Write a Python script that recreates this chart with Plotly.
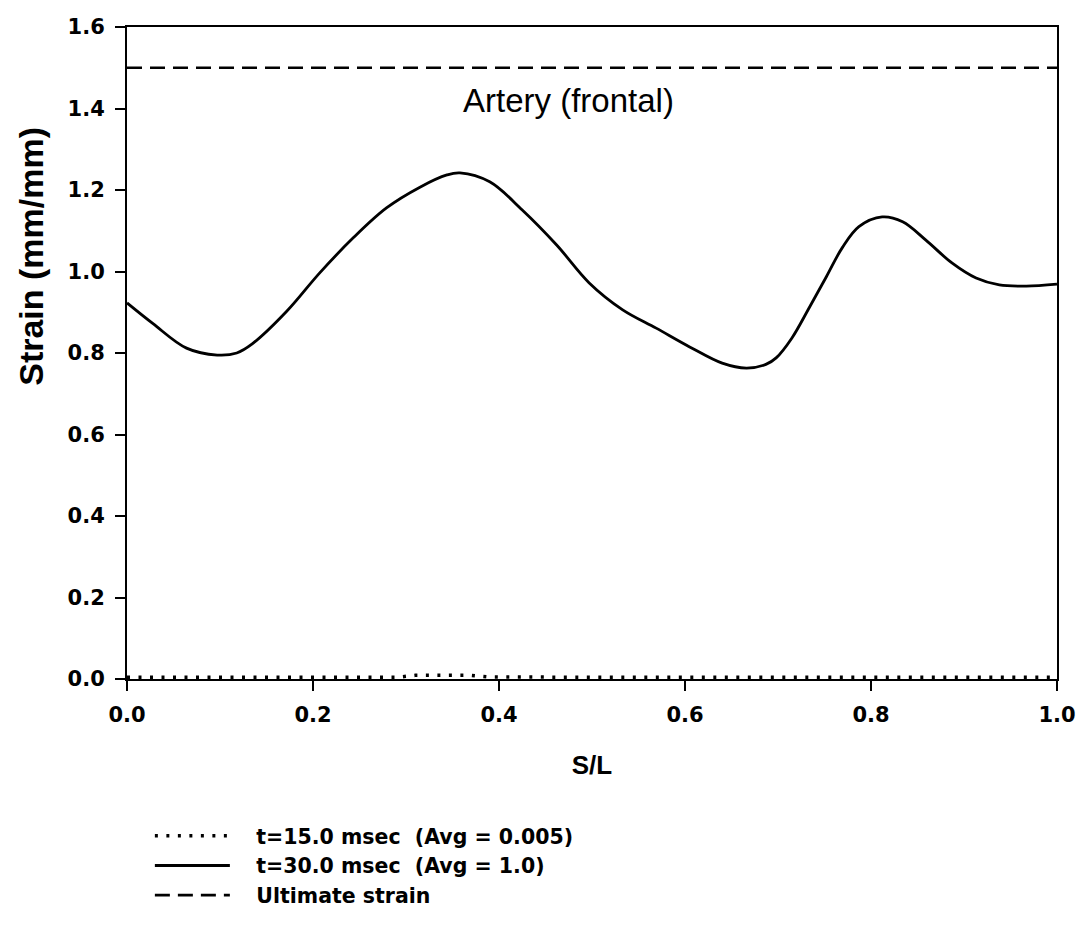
import plotly.graph_objects as go

# S/L positions and strain for the t=30.0 msec profile
s_30 = [0.0, 0.028, 0.064, 0.097, 0.118, 0.135, 0.172, 0.207, 0.243, 0.279, 0.315,
        0.344, 0.358, 0.390, 0.425, 0.462, 0.497, 0.533, 0.569, 0.605, 0.640, 0.666,
        0.687, 0.698, 0.715, 0.734, 0.752, 0.769, 0.787, 0.812, 0.834, 0.859, 0.887,
        0.913, 0.938, 0.967, 1.0]
strain_30 = [0.923, 0.872, 0.812, 0.795, 0.800, 0.823, 0.903, 0.996, 1.082, 1.156, 1.207,
             1.237, 1.242, 1.220, 1.151, 1.065, 0.972, 0.906, 0.861, 0.815, 0.775, 0.763,
             0.772, 0.788, 0.837, 0.913, 0.987, 1.058, 1.110, 1.134, 1.122, 1.077, 1.021,
             0.984, 0.967, 0.964, 0.969]

# t=15.0 msec profile (nearly zero everywhere)
s_15 = [0.0, 0.05, 0.10, 0.15, 0.20, 0.25, 0.29, 0.31, 0.34, 0.37, 0.39, 0.45,
        0.50, 0.55, 0.60, 0.65, 0.70, 0.75, 0.80, 0.85, 0.90, 0.95, 1.0]
strain_15 = [0.004, 0.004, 0.004, 0.004, 0.004, 0.004, 0.004, 0.009, 0.010, 0.009, 0.005, 0.004,
             0.004, 0.004, 0.004, 0.004, 0.004, 0.004, 0.004, 0.004, 0.004, 0.004, 0.004]

# Ultimate strain limit
s_ult = [0.0, 1.0]
strain_ult = [1.5, 1.5]

x_ticks = [0.0, 0.2, 0.4, 0.6, 0.8, 1.0]
y_ticks = [0.0, 0.2, 0.4, 0.6, 0.8, 1.0, 1.2, 1.4, 1.6]

NB = "\u00a0"
tick_font = dict(family="DejaVu Sans", size=21, color="black", weight="bold")
legend_font = dict(family="DejaVu Sans", size=20.5, color="black", weight="bold")

fig = go.Figure()
fig.add_trace(go.Scatter(
    x=s_15, y=strain_15, mode="lines", legendgroup="a",
    name=NB * 3 + "t=15.0 msec" + NB * 2 + "(Avg = 0.005)",
    line=dict(color="black", width=3.5, dash="3px,8.5px"),
))
fig.add_trace(go.Scatter(
    x=s_30, y=strain_30, mode="lines", legendgroup="b", line_shape="spline",
    line_smoothing=1.0,
    name=NB * 3 + "t=30.0 msec" + NB * 2 + "(Avg = 1.0)",
    line=dict(color="black", width=2.8),
))
fig.add_trace(go.Scatter(
    x=s_ult, y=strain_ult, mode="lines", legendgroup="c",
    name=NB * 3 + "Ultimate strain",
    line=dict(color="black", width=2.6, dash="15px,8px"),
))

fig.add_annotation(
    x=0.475, y=1.42, xref="x", yref="y", text="Artery (frontal)", showarrow=False,
    font=dict(family="Liberation Sans", size=33, color="black"),
)
fig.add_annotation(
    x=-0.104, y=0.648, xref="paper", yref="paper", text="Strain (mm/mm)", showarrow=False,
    textangle=-90, xanchor="center", yanchor="middle",
    font=dict(family="Liberation Sans", size=34, color="black", weight="bold"),
)

axis_common = dict(
    showgrid=False, zeroline=False, showline=True, linecolor="black", linewidth=2,
    mirror=True, ticks="outside", ticklen=10, tickwidth=2, tickcolor="black",
    tickfont=tick_font, tickformat=".1f",
)
fig.update_xaxes(
    range=[0, 1], tickvals=x_ticks, ticklabelstandoff=6,
    title=dict(text="S/L", font=dict(family="Liberation Sans", size=26, color="black",
                                     weight="bold"), standoff=30),
    **axis_common,
)
fig.update_yaxes(range=[0, 1.6], tickvals=y_ticks, ticklabelstandoff=6, **axis_common)

fig.update_layout(
    width=1086, height=930, autosize=False,
    margin=dict(l=127, r=29, t=27, b=251, autoexpand=False),
    paper_bgcolor="white", plot_bgcolor="white",
    showlegend=True,
    legend=dict(
        xref="container", yref="container", x=0.138, y=1 - 816 / 930,
        xanchor="left", yanchor="top", font=legend_font, itemwidth=75,
        tracegroupgap=0, bgcolor="rgba(0,0,0,0)",
    ),
)

fig.write_html("out.html")
